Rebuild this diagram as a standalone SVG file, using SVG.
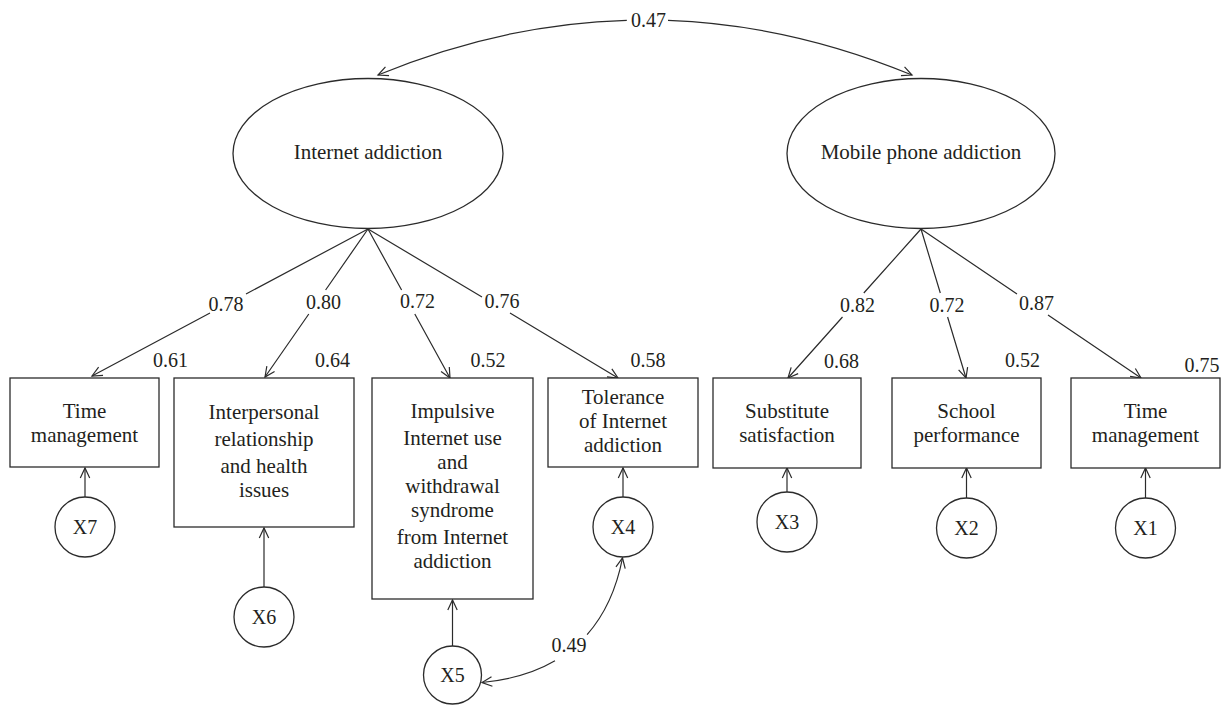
<svg xmlns="http://www.w3.org/2000/svg" width="1229" height="707" viewBox="0 0 1229 707">
<style>
.shape{fill:#fff;stroke:#2b2b2b;stroke-width:1.3}
.line{fill:none;stroke:#2b2b2b;stroke-width:1.2}
.t{font-family:"Liberation Serif","Times New Roman",serif;font-size:21px;fill:#231f20;text-anchor:middle}
.n{font-family:"Liberation Serif","Times New Roman",serif;font-size:20px;fill:#231f20;text-anchor:middle}
</style>
<defs>
<marker id="arr" markerWidth="14" markerHeight="14" refX="12" refY="7" orient="auto" markerUnits="userSpaceOnUse" viewBox="0 0 14 14">
<path d="M2 2.3 L12 7 L2 11.7" fill="none" stroke="#2b2b2b" stroke-width="1.2"/>
</marker>
</defs>
<rect width="1229" height="707" fill="#fff"/>

<g id="connectors">
<path class="line" d="M626.8 20.3 Q502.4 23.7 378 75" marker-end="url(#arr)"/>
<path class="line" d="M668 20.4 Q790 24.7 912 75" marker-end="url(#arr)"/>
<path class="line" d="M368 229 L246 294 M210 313 L92 376" marker-end="url(#arr)"/>
<path class="line" d="M368 229 L325.6 290 M308.8 314 L265 377" marker-end="url(#arr)"/>
<path class="line" d="M368 229 L401.6 290 M414.8 314 L450 378" marker-end="url(#arr)"/>
<path class="line" d="M368 229 L482 297 M510 313 L618 378" marker-end="url(#arr)"/>
<path class="line" d="M921 229 L863.8 293 M842.5 317 L788 378" marker-end="url(#arr)"/>
<path class="line" d="M921 229 L940.3 293 M947.6 317 L966 378" marker-end="url(#arr)"/>
<path class="line" d="M921 229 L1017 294 M1048 315 L1141 378" marker-end="url(#arr)"/>
<path class="line" d="M85 497 L85 468" marker-end="url(#arr)"/>
<path class="line" d="M264 587 L264 528" marker-end="url(#arr)"/>
<path class="line" d="M452.5 646 L452.5 600" marker-end="url(#arr)"/>
<path class="line" d="M623 497 L623 468" marker-end="url(#arr)"/>
<path class="line" d="M787 492 L787 468" marker-end="url(#arr)"/>
<path class="line" d="M966.5 498 L966.5 468" marker-end="url(#arr)"/>
<path class="line" d="M1145.5 498 L1145.5 468" marker-end="url(#arr)"/>
<path class="line" d="M555 660.8 Q525.1 678.3 482 682.5" marker-end="url(#arr)"/>
<path class="line" d="M587.1 634.6 Q613.3 605 622.5 558" marker-end="url(#arr)"/>
</g>

<g id="connector-labels">
<text class="n" x="648.5" y="27">0.47</text>
<text class="n" x="226" y="311">0.78</text>
<text class="n" x="323.5" y="309">0.80</text>
<text class="n" x="417.5" y="308">0.72</text>
<text class="n" x="502" y="308">0.76</text>
<text class="n" x="857.5" y="312">0.82</text>
<text class="n" x="947" y="312">0.72</text>
<text class="n" x="1036.5" y="310">0.87</text>
<text class="n" x="569" y="652">0.49</text>
<text class="n" x="170.5" y="367">0.61</text>
<text class="n" x="332.5" y="367">0.64</text>
<text class="n" x="488" y="367">0.52</text>
<text class="n" x="648" y="367">0.58</text>
<text class="n" x="841.5" y="368">0.68</text>
<text class="n" x="1022.5" y="367">0.52</text>
<text class="n" x="1202" y="372">0.75</text>
</g>

<g id="internet-addiction">
<ellipse class="shape" cx="368" cy="153.5" rx="135" ry="75"/>
<text class="t" x="368" y="159">Internet addiction</text>
</g>
<g id="mobile-phone-addiction">
<ellipse class="shape" cx="921" cy="153.5" rx="134" ry="75"/>
<text class="t" x="921" y="159">Mobile phone addiction</text>
</g>

<g id="time-management-1">
<rect class="shape" x="10" y="378" width="149" height="89"/>
<text class="t" x="84.5" y="418">Time</text>
<text class="t" x="84.5" y="442">management</text>
</g>
<g id="interpersonal">
<rect class="shape" x="174" y="378" width="180" height="149"/>
<text class="t" x="264" y="419">Interpersonal</text>
<text class="t" x="264" y="446">relationship</text>
<text class="t" x="264" y="473">and health</text>
<text class="t" x="264" y="497">issues</text>
</g>
<g id="impulsive">
<rect class="shape" x="372" y="378" width="161" height="221"/>
<text class="t" x="452.5" y="418">Impulsive</text>
<text class="t" x="452.5" y="445">Internet use</text>
<text class="t" x="452.5" y="469">and</text>
<text class="t" x="452.5" y="493">withdrawal</text>
<text class="t" x="452.5" y="517">syndrome</text>
<text class="t" x="452.5" y="544">from Internet</text>
<text class="t" x="452.5" y="568">addiction</text>
</g>
<g id="tolerance">
<rect class="shape" x="548" y="378" width="150" height="89"/>
<text class="t" x="623" y="404">Tolerance</text>
<text class="t" x="623" y="428">of Internet</text>
<text class="t" x="623" y="452">addiction</text>
</g>
<g id="substitute">
<rect class="shape" x="713" y="378" width="148" height="90"/>
<text class="t" x="787" y="418">Substitute</text>
<text class="t" x="787" y="442">satisfaction</text>
</g>
<g id="school">
<rect class="shape" x="892" y="378" width="149" height="90"/>
<text class="t" x="966.5" y="418">School</text>
<text class="t" x="966.5" y="442">performance</text>
</g>
<g id="time-management-2">
<rect class="shape" x="1071" y="378" width="149" height="90"/>
<text class="t" x="1145.5" y="418">Time</text>
<text class="t" x="1145.5" y="442">management</text>
</g>

<g id="X7"><circle class="shape" cx="85" cy="527" r="30"/><text class="n" x="85" y="534">X7</text></g>
<g id="X6"><circle class="shape" cx="264" cy="617" r="30"/><text class="n" x="264" y="624">X6</text></g>
<g id="X5"><circle class="shape" cx="452.5" cy="675" r="29"/><text class="n" x="452.5" y="682">X5</text></g>
<g id="X4"><circle class="shape" cx="623" cy="527" r="30"/><text class="n" x="623" y="534">X4</text></g>
<g id="X3"><circle class="shape" cx="787" cy="522" r="30"/><text class="n" x="787" y="529">X3</text></g>
<g id="X2"><circle class="shape" cx="966.5" cy="528" r="30"/><text class="n" x="966.5" y="535">X2</text></g>
<g id="X1"><circle class="shape" cx="1145.5" cy="528" r="30"/><text class="n" x="1145.5" y="535">X1</text></g>
</svg>
